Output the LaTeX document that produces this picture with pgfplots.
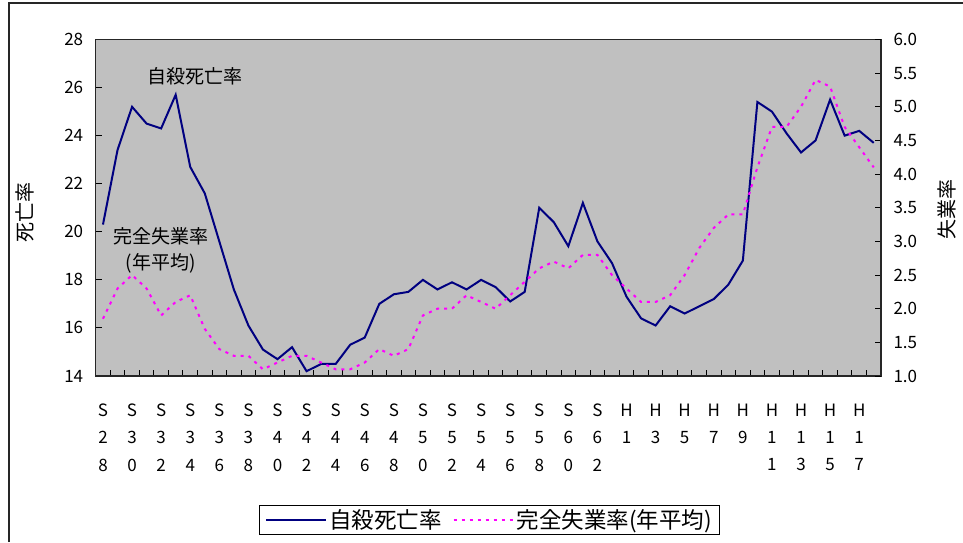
\documentclass[border=0pt]{standalone}
\usepackage{fontspec}
\setmainfont{Noto Sans CJK JP}
\usepackage{pgfplots}
\pgfplotsset{compat=1.18}
\usepackage{pgfplotstable}

\definecolor{plotbg}{HTML}{C0C0C0}
\definecolor{navyline}{HTML}{000080}
\definecolor{pinkline}{HTML}{FF00FF}

% 1953 (S28) .. 2006 (H18), one row per year
\pgfplotstableread{
idx suicide unemp
0  20.3 1.85
1  23.4 2.3
2  25.2 2.5
3  24.5 2.3
4  24.3 1.9
5  25.7 2.1
6  22.7 2.2
7  21.6 1.7
8  19.6 1.4
9  17.6 1.3
10 16.1 1.3
11 15.1 1.1
12 14.7 1.2
13 15.2 1.3
14 14.2 1.3
15 14.5 1.2
16 14.5 1.1
17 15.3 1.1
18 15.6 1.2
19 17.0 1.4
20 17.4 1.3
21 17.5 1.4
22 18.0 1.9
23 17.6 2.0
24 17.9 2.0
25 17.6 2.2
26 18.0 2.1
27 17.7 2.0
28 17.1 2.2
29 17.5 2.4
30 21.0 2.6
31 20.4 2.7
32 19.4 2.6
33 21.2 2.8
34 19.6 2.8
35 18.7 2.5
36 17.3 2.3
37 16.4 2.1
38 16.1 2.1
39 16.9 2.2
40 16.6 2.5
41 16.9 2.9
42 17.2 3.2
43 17.8 3.4
44 18.8 3.4
45 25.4 4.1
46 25.0 4.7
47 24.1 4.7
48 23.3 5.0
49 23.8 5.4
50 25.5 5.3
51 24.0 4.7
52 24.2 4.4
53 23.7 4.1
}\datatable

\pgfplotsset{
  common/.style={
    scale only axis,
    width=785.3pt, height=336.5pt,
    at={(95.7pt,166pt)}, anchor=south west,
    xmin=-0.5, xmax=53.5,
    /pgf/number format/assume math mode=true,
    tick style={black, line width=1pt},
    major tick length=6pt, minor tick length=6pt,
    ticklabel style={font=\fontsize{17}{20}\selectfont},
  },
}

\begin{document}
\begin{tikzpicture}[x=1pt,y=1pt]
\useasboundingbox (0,0) rectangle (963,542);
\draw[line width=1.2pt, black!85] (9,0) -- (9,539) -- (963,539);

\begin{axis}[
  common,
  axis background/.style={fill=plotbg},
  axis line style={black!85, line width=1.2pt},
  ymin=14, ymax=28,
  ytick={14,16,...,28},
  ytick pos=left,
  yticklabel style={anchor=east, xshift=-9pt},
  xtick={0.5,1.5,...,52.5},
  xticklabels={},
  xtick pos=bottom,
  extra x ticks={0,2,...,52},
  extra x tick labels={{S\\2\\8},{S\\3\\0},{S\\3\\2},{S\\3\\4},{S\\3\\6},{S\\3\\8},
    {S\\4\\0},{S\\4\\2},{S\\4\\4},{S\\4\\6},{S\\4\\8},{S\\5\\0},{S\\5\\2},{S\\5\\4},
    {S\\5\\6},{S\\5\\8},{S\\6\\0},{S\\6\\2},{H\\1},{H\\3},{H\\5},{H\\7},{H\\9},
    {H\\1\\1},{H\\1\\3},{H\\1\\5},{H\\1\\7}},
  extra x tick style={major tick length=0pt},
  xticklabel style={font=\fontsize{17}{27.5}\selectfont, align=center, anchor=north, yshift=-24pt},
  ylabel={死亡率},
  every axis y label/.style={at={(axis description cs:-0.090,0.487)}, rotate=90, anchor=center, font=\fontsize{20}{24}\selectfont},
]
\addplot[navyline, line width=2pt, no marks, sharp plot] table[x=idx, y=suicide] {\datatable};
\node[font=\fontsize{19}{22}\selectfont] at (axis cs:6.35,26.46) {自殺死亡率};
\node[font=\fontsize{19}{22}\selectfont] at (axis cs:3.99,19.8) {完全失業率};
\node[font=\fontsize{19}{22}\selectfont] at (axis cs:3.96,18.69) {(年平均)};
\end{axis}

\begin{axis}[
  common,
  axis x line=none,
  axis y line*=right,
  axis line style={black!85, line width=1.2pt},
  ymin=1, ymax=6,
  ytick={1,1.5,...,6},
  yticklabel style={anchor=west, xshift=9pt, /pgf/number format/.cd, fixed, fixed zerofill, precision=1},
  ylabel={失業率},
  every axis y label/.style={at={(axis description cs:1.0837,0.496)}, rotate=90, anchor=center, font=\fontsize{20}{24}\selectfont},
  legend image code/.code={\draw[#1] (0pt,0pt) -- (60pt,0pt);},
  legend style={at={(0.5015,-0.428)}, anchor=center, legend columns=2,
    draw=black, line width=1pt, font=\fontsize{22.5}{26}\selectfont,
    inner xsep=6pt, inner ysep=2pt,
    /tikz/every even column/.append style={column sep=9pt}},
]
\addlegendimage{navyline, line width=2pt}
\addlegendentry{自殺死亡率}
\addplot[pinkline, line width=2pt, no marks, sharp plot, dash pattern=on 3pt off 5pt] table[x=idx, y=unemp] {\datatable};
\addlegendentry{完全失業率(年平均)}
\end{axis}
\end{tikzpicture}
\end{document}
